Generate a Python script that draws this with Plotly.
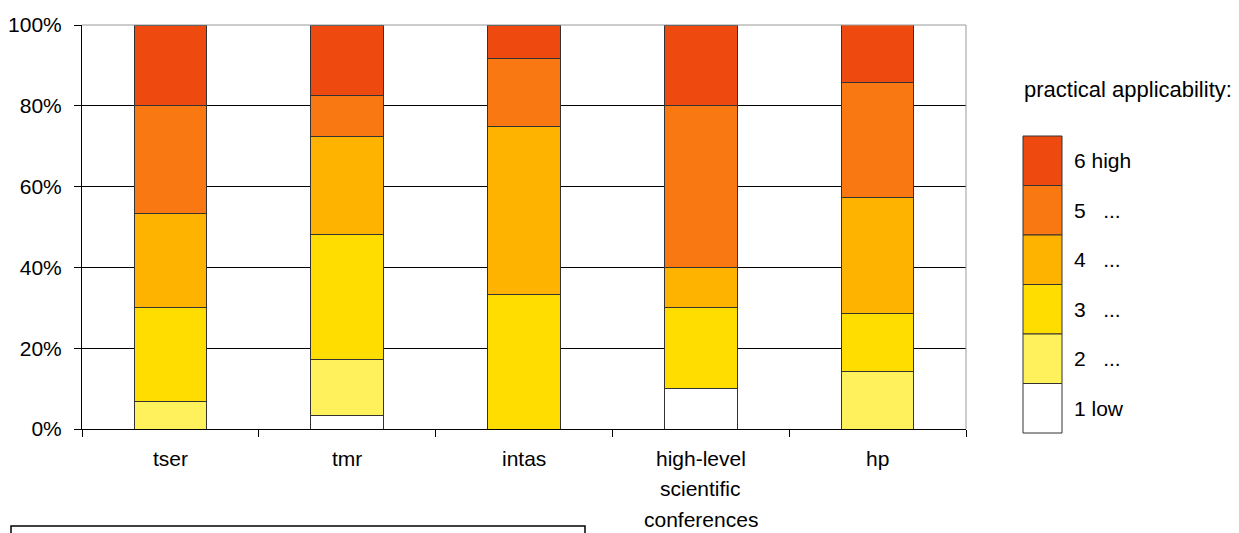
import plotly.graph_objects as go

# Share of answers per rating level (percent of respondents in each group)
categories = ["tser", "tmr", "intas", "high-level scientific conferences", "hp"]
category_lines = [["tser"], ["tmr"], ["intas"], ["high-level", "scientific", "conferences"], ["hp"]]

levels = ["1 low", "2 ...", "3 ...", "4 ...", "5 ...", "6 high"]
level_1 = [0.0, 3.4, 0.0, 10.0, 0.0]
level_2 = [6.7, 13.8, 0.0, 0.0, 14.3]
level_3 = [23.3, 31.0, 33.3, 20.0, 14.3]
level_4 = [23.3, 24.1, 41.7, 10.0, 28.6]
level_5 = [26.7, 10.3, 16.7, 40.0, 28.6]
level_6 = [20.0, 17.2, 8.3, 20.0, 14.3]
series = [level_1, level_2, level_3, level_4, level_5, level_6]

y_ticks = [0, 20, 40, 60, 80, 100]
y_tick_text = ["0%", "20%", "40%", "60%", "80%", "100%"]

colors = ["#FFFFFF", "#FFF15C", "#FFDD00", "#FDB300", "#F97812", "#EE4A10"]
legend_title = "practical applicability:"
legend_labels = ["1 low", "2\u00a0\u00a0\u00a0...", "3\u00a0\u00a0\u00a0...",
                 "4\u00a0\u00a0\u00a0...", "5\u00a0\u00a0\u00a0...", "6 high"]

FONT = "Liberation Sans, Arial, sans-serif"
FS = 21

W, H = 1239, 533
ML, MR, MT, MB = 82, 273, 25, 104

fig = go.Figure()
for name, vals, col in zip(levels, series, colors):
    fig.add_trace(go.Bar(
        x=categories, y=vals, name=name, width=0.41,
        marker=dict(color=col, line=dict(color="#333333", width=1)),
        showlegend=False,
    ))

fig.update_layout(
    barmode="stack",
    width=W, height=H,
    margin=dict(l=ML, r=MR, t=MT, b=MB, autoexpand=False),
    paper_bgcolor="white", plot_bgcolor="white",
    font=dict(family=FONT, size=FS, color="black"),
    xaxis=dict(
        showticklabels=False, ticks="outside", tickson="boundaries",
        ticklen=7, tickcolor="black", showline=True, linecolor="black",
        linewidth=1, showgrid=False, automargin=False,
    ),
    yaxis=dict(
        range=[0, 100], tickmode="array", tickvals=y_ticks, ticktext=y_tick_text,
        ticks="outside", ticklen=7, tickcolor="black", showline=True,
        linecolor="black", linewidth=1, showgrid=True, gridcolor="black",
        gridwidth=1, zeroline=False, ticklabelstandoff=8,
        tickfont=dict(size=FS), automargin=False,
    ),
)

# Top and right frame lines of the plot area
fig.add_shape(type="line", xref="paper", yref="paper", x0=0, x1=1, y0=1, y1=1,
              line=dict(color="#999999", width=1), layer="above")
fig.add_shape(type="line", xref="paper", yref="paper", x0=1, x1=1, y0=0, y1=1,
              line=dict(color="#999999", width=1), layer="above")

# Category labels, one annotation per text line
for cat, lines in zip(categories, category_lines):
    for i, line in enumerate(lines):
        fig.add_annotation(x=cat, xref="x", y=0, yref="paper", text=line,
                           showarrow=False, yanchor="middle",
                           yshift=-29 - 30.5 * i, font=dict(size=FS))

# helpers: page pixels -> paper coordinates
plot_w = W - ML - MR
plot_h = H - MT - MB
def to_paper_x(x):
    return (x - ML) / plot_w
def to_paper_y(y):
    return (H - MB - y) / plot_h

# Colour key on the right
sw_x0, sw_x1 = 1023, 1062
sw_top, sw_h = 136, 49.5

fig.add_annotation(text=legend_title, xref="paper", yref="paper",
                   x=to_paper_x(1022), y=to_paper_y(89), showarrow=False,
                   xanchor="left", yanchor="middle", font=dict(size=FS + 1))

for k in range(6):
    idx = 5 - k
    y0 = sw_top + k * sw_h
    y1 = y0 + sw_h
    fig.add_shape(type="rect", xref="paper", yref="paper",
                  x0=to_paper_x(sw_x0), x1=to_paper_x(sw_x1),
                  y0=to_paper_y(y1), y1=to_paper_y(y0),
                  fillcolor=colors[idx], line=dict(color="#333333", width=1))
    fig.add_annotation(text=legend_labels[idx], xref="paper", yref="paper",
                       x=to_paper_x(1072), y=to_paper_y((y0 + y1) / 2),
                       showarrow=False, xanchor="left", yanchor="middle",
                       font=dict(size=FS))

# Empty framed box at the lower left
fig.add_shape(type="rect", xref="paper", yref="paper",
              x0=to_paper_x(11), x1=to_paper_x(585),
              y0=to_paper_y(545), y1=to_paper_y(526),
              line=dict(color="black", width=1.5), fillcolor="rgba(0,0,0,0)")

fig.write_html("out.html")
